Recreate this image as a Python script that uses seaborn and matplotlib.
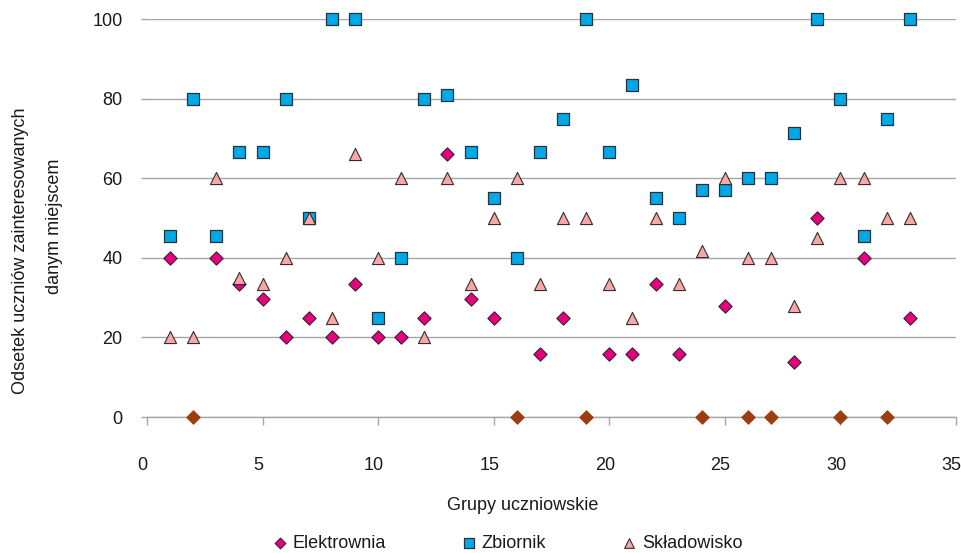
import matplotlib
matplotlib.use("Agg")
import matplotlib.pyplot as plt
import matplotlib.transforms as mtransforms
import seaborn as sns
import pandas as pd

# Group numbers and the share (%) of pupils interested in each site
grupy = list(range(1, 34))
elektrownia = [40, 0, 40, 33.3, 29.7, 20, 25, 20, 33.3, 20, 20, 25, 66, 29.7, 25, 0,
               15.8, 25, 0, 15.8, 15.8, 33.3, 15.8, 0, 27.8, 0, 0, 13.8, 50, 0, 40, 0, 25]
zbiornik = [45.5, 80, 45.5, 66.7, 66.7, 80, 50, 100, 100, 25, 40, 80, 81, 66.7, 55, 40,
            66.7, 75, 100, 66.7, 83.3, 55, 50, 57.1, 57.1, 60, 60, 71.4, 100, 80, 45.5, 75, 100]
skladowisko = [20, 20, 60, 35, 33.3, 40, 50, 25, 66, 40, 60, 20, 60, 33.3, 50, 60,
               33.3, 50, 50, 33.3, 25, 50, 33.3, 41.7, 60, 40, 40, 27.8, 45, 60, 60, 50, 50]

x_ticks = [0, 5, 10, 15, 20, 25, 30, 35]
y_ticks = [0, 20, 40, 60, 80, 100]

df = pd.DataFrame({"grupa": grupy, "Elektrownia": elektrownia,
                   "Zbiornik": zbiornik, "Składowisko": skladowisko})
el_pos = df[df["Elektrownia"] > 0]
el_zero = df[df["Elektrownia"] == 0]

sns.set_style("white")
plt.rcParams["font.family"] = ["Liberation Sans", "DejaVu Sans"]
plt.rcParams["font.size"] = 13

fig = plt.figure(figsize=(9.61, 5.53), dpi=100)
ax = fig.add_axes([147 / 961, 1 - 417 / 553, 809 / 961, 398 / 553])

grid_col = "#A6A6A6"
text_col = "#1a1a1a"

common = dict(ax=ax, clip_on=False, zorder=3)
sns.scatterplot(data=el_pos, x="grupa", y="Elektrownia", marker="D", s=46,
                color="#E6007E", edgecolor="#3b2030", linewidth=0.8,
                label="Elektrownia", **common)
sns.scatterplot(data=df, x="grupa", y="Zbiornik", marker="s", s=68,
                color="#00A8E8", edgecolor="#24323c", linewidth=0.9,
                label="Zbiornik", **common)
sns.scatterplot(data=df, x="grupa", y="Składowisko", marker="^", s=76,
                color="#F5A8A8", edgecolor="#3c2a2a", linewidth=0.8,
                label="Składowisko", **common)
sns.scatterplot(data=el_zero, x="grupa", y="Elektrownia", marker="D", s=46,
                color="#9C3D10", edgecolor="#9C3D10", linewidth=0.8,
                legend=False, **common)

ax.set_xlim(0, 35)
ax.set_ylim(0, 100)
ax.set_xticks(x_ticks)
ax.set_yticks(y_ticks)

ax.yaxis.grid(True, color=grid_col, linewidth=1)
ax.xaxis.grid(False)
ax.set_axisbelow(True)
for side in ("left", "top", "right"):
    ax.spines[side].set_visible(False)
ax.spines["bottom"].set_color(grid_col)
ax.spines["bottom"].set_linewidth(1)

ax.tick_params(axis="x", direction="out", length=6, width=1, color=grid_col,
               pad=22.5, labelsize=13, labelcolor=text_col, bottom=True)
ax.tick_params(axis="y", direction="out", length=4.5, width=1, color=grid_col,
               pad=13, labelsize=13, labelcolor=text_col, left=True)

# nudge the x tick labels slightly to the left of their ticks
shift = mtransforms.ScaledTranslation(-0.045, 0, fig.dpi_scale_trans)
for lbl in ax.get_xticklabels():
    lbl.set_transform(lbl.get_transform() + shift)

ax.set_xlabel("Grupy uczniowskie", fontsize=13, color=text_col)
ax.xaxis.set_label_coords(0.465, -0.222)
ax.xaxis.label.set_va("center")
ax.set_ylabel("")

ax.text(-0.156, 0.418, "Odsetek uczniów zainteresowanych", rotation=90,
        ha="center", va="center", fontsize=13, color=text_col, transform=ax.transAxes)
ax.text(-0.114, 0.478, "danym miejscem", rotation=90,
        ha="center", va="center", fontsize=13, color=text_col, transform=ax.transAxes)

leg = ax.legend(loc="center", bbox_to_anchor=(0.528, 0.018), bbox_transform=fig.transFigure,
                ncol=3, frameon=False, fontsize=13, markerscale=0.8,
                handlelength=0.8, handletextpad=0.3, columnspacing=4.2,
                borderaxespad=0, borderpad=0)
for t in leg.get_texts():
    t.set_color(text_col)

fig.savefig("out.png", dpi=100)
